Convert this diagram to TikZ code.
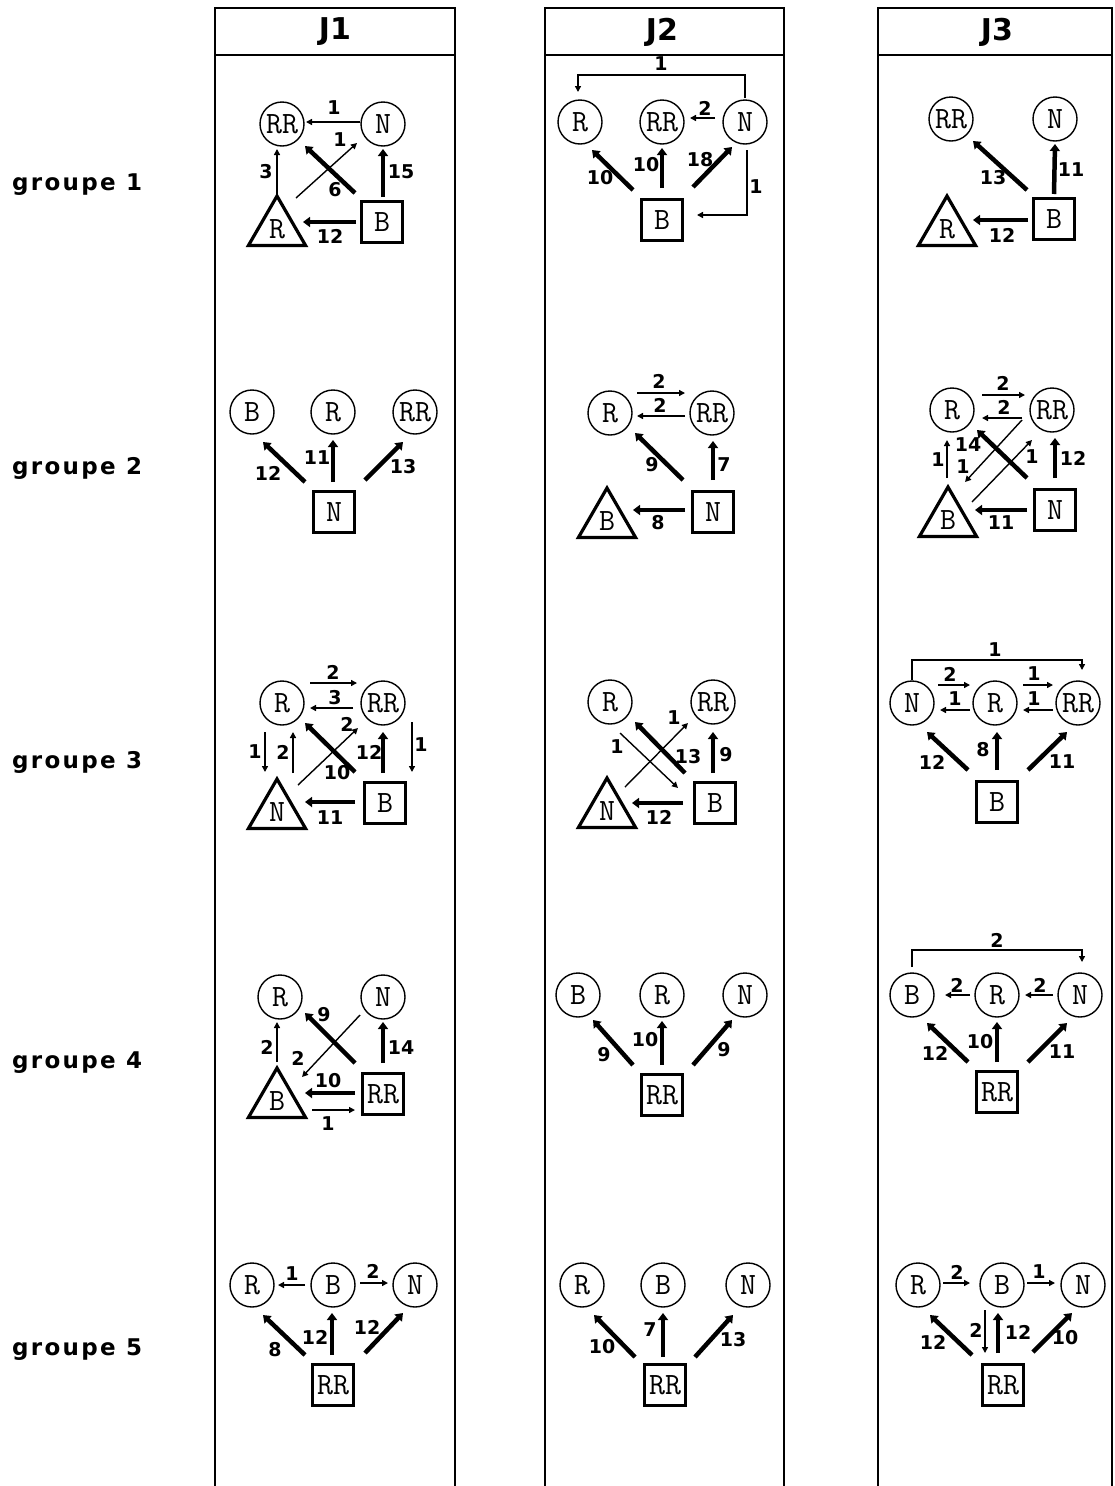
\documentclass[tikz,border=0pt]{standalone}
\usepackage{fontspec}
\usetikzlibrary{arrows.meta,shapes.geometric}
\newfontfamily\numfont{DejaVu Sans}
\newfontfamily\grpfont{DejaVu Sans}[LetterSpace=10]
\newcommand\nodefnt{\ttfamily\fontsize{31}{31}\selectfont\addfontfeatures{FakeStretch=1.2,FakeBold=1}}
\begin{document}
\begin{tikzpicture}[x=1pt,y=-1pt,
  circ/.style={circle,draw,line width=1.4pt,minimum size=44pt,inner sep=0pt,font=\nodefnt},
  sqr/.style={rectangle,draw,line width=3.5pt,minimum size=41pt,inner sep=0pt,font=\nodefnt},
  tri/.style={regular polygon,regular polygon sides=3,draw,line width=3.2pt,minimum size=66pt,inner sep=0pt,font=\nodefnt},
  thk/.style={line width=4.5pt,-{Triangle[length=7pt,width=10pt]}},
  thn/.style={line width=1.4pt,-{Triangle[length=6pt,width=6pt]}},
  lab/.style={font=\numfont\bfseries\fontsize{19}{19}\selectfont,inner sep=0pt},
  head/.style={font=\numfont\bfseries\fontsize{30}{30}\selectfont,inner sep=0pt},
  grp/.style={font=\grpfont\bfseries\fontsize{23}{23}\selectfont,inner sep=0pt,anchor=west},
  frame/.style={line width=2pt}]
\useasboundingbox (0,0) rectangle (1114,1486);
% frames
\draw[frame] (215,1490) -- (215,8) -- (455,8) -- (455,1490);
\draw[frame] (215,55) -- (455,55);
\draw[frame] (545,1490) -- (545,8) -- (784,8) -- (784,1490);
\draw[frame] (545,55) -- (784,55);
\draw[frame] (878,1490) -- (878,8) -- (1112,8) -- (1112,1490);
\draw[frame] (878,55) -- (1112,55);
\node[head] (hJ1) at (335,32) {J1};
\node[head] (hJ2) at (662,32) {J2};
\node[head] (hJ3) at (997,32) {J3};
\node[grp] (g1) at (12,185) {groupe 1};
\node[grp] (g2) at (12,468) {groupe 2};
\node[grp] (g3) at (12,762) {groupe 3};
\node[grp] (g4) at (12,1063) {groupe 4};
\node[grp] (g5) at (12,1350) {groupe 5};

% ---------- a1
\node[circ] (a1RR) at (282,124) {RR};
\node[circ] (a1N) at (383,124) {N};
\node[tri] (a1R) at (277,229) {R};
\node[sqr] (a1B) at (382,222) {B};
\draw[thn] ([shift={(-23,-2)}]a1N.center) -- ([shift={(24,-2)}]a1RR.center);
\draw[thn] ([shift={(19,-31)}]a1R.center) -- ([shift={(-26,19)}]a1N.center);
\draw[thk] ([shift={(-27,-29)}]a1B.center) -- ([shift={(23,22)}]a1RR.center);
\draw[thn] ([shift={(0,-35)}]a1R.center) -- ([shift={(-5,25)}]a1RR.center);
\draw[thk] ([shift={(1,-25)}]a1B.center) -- ([shift={(0,25)}]a1N.center);
\draw[thk] ([shift={(-26,0)}]a1B.center) -- ([shift={(26,-7)}]a1R.center);
\node[lab] (a1l1) at (334,108) {1};
\node[lab] (a1l2) at (340,140) {1};
\node[lab] (a1l3) at (335,190) {6};
\node[lab] (a1l4) at (266,172) {3};
\node[lab] (a1l5) at (401,172) {15};
\node[lab] (a1l6) at (330,236) {12};

% ---------- a2
\node[circ] (a2B) at (252,412) {B};
\node[circ] (a2R) at (333,412) {R};
\node[circ] (a2RR) at (415,412) {RR};
\node[sqr] (a2N) at (334,512) {N};
\draw[thk] ([shift={(-29,-30)}]a2N.center) -- ([shift={(11,30)}]a2B.center);
\draw[thk] ([shift={(-1,-30)}]a2N.center) -- ([shift={(0,28)}]a2R.center);
\draw[thk] ([shift={(31,-32)}]a2N.center) -- ([shift={(-12,30)}]a2RR.center);
\node[lab] (a2l1) at (268,473) {12};
\node[lab] (a2l2) at (317,458) {11};
\node[lab] (a2l3) at (403,467) {13};

% ---------- a3
\node[circ] (a3R) at (282,703) {R};
\node[circ] (a3RR) at (383,703) {RR};
\node[tri] (a3N) at (277,812) {N};
\node[sqr] (a3B) at (385,803) {B};
\draw[thn] ([shift={(28,-20)}]a3R.center) -- ([shift={(-26,-20)}]a3RR.center);
\draw[thn] ([shift={(-30,5)}]a3RR.center) -- ([shift={(28,5)}]a3R.center);
\draw[thn] ([shift={(-17,29)}]a3R.center) -- ([shift={(-12,-40)}]a3N.center);
\draw[thn] ([shift={(16,-39)}]a3N.center) -- ([shift={(11,29)}]a3R.center);
\draw[thk] ([shift={(-30,-31)}]a3B.center) -- ([shift={(23,20)}]a3R.center);
\draw[thn] ([shift={(21,-27)}]a3N.center) -- ([shift={(-25,25)}]a3RR.center);
\draw[thk] ([shift={(-2,-30)}]a3B.center) -- ([shift={(0,29)}]a3RR.center);
\draw[thn] ([shift={(29,19)}]a3RR.center) -- ([shift={(27,-31)}]a3B.center);
\draw[thk] ([shift={(-30,-1)}]a3B.center) -- ([shift={(28,-10)}]a3N.center);
\node[lab] (a3l1) at (333,672) {2};
\node[lab] (a3l2) at (335,698) {3};
\node[lab] (a3l3) at (255,752) {1};
\node[lab] (a3l4) at (283,752) {2};
\node[lab] (a3l5) at (337,773) {10};
\node[lab] (a3l6) at (347,724) {2};
\node[lab] (a3l7) at (369,752) {12};
\node[lab] (a3l8) at (421,745) {1};
\node[lab] (a3l9) at (330,818) {11};

% ---------- a4
\node[circ] (a4R) at (280,997) {R};
\node[circ] (a4N) at (383,997) {N};
\node[tri] (a4B) at (277,1101) {B};
\node[sqr] (a4RR) at (383,1094) {RR};
\draw[thn] ([shift={(0,-39)}]a4B.center) -- ([shift={(-3,25)}]a4R.center);
\draw[thk] ([shift={(-28,-31)}]a4RR.center) -- ([shift={(25,16)}]a4R.center);
\draw[thn] ([shift={(-23,18)}]a4N.center) -- ([shift={(25,-24)}]a4B.center);
\draw[thk] ([shift={(0,-31)}]a4RR.center) -- ([shift={(0,25)}]a4N.center);
\draw[thk] ([shift={(-28,-1)}]a4RR.center) -- ([shift={(28,-8)}]a4B.center);
\draw[thn] ([shift={(35,9)}]a4B.center) -- ([shift={(-28,16)}]a4RR.center);
\node[lab] (a4l1) at (267,1047) {2};
\node[lab] (a4l2) at (324,1015) {9};
\node[lab] (a4l3) at (298,1058) {2};
\node[lab] (a4l4) at (401,1048) {14};
\node[lab] (a4l5) at (328,1081) {10};
\node[lab] (a4l6) at (328,1124) {1};

% ---------- a5
\node[circ] (a5R) at (252,1285) {R};
\node[circ] (a5B) at (333,1285) {B};
\node[circ] (a5N) at (415,1285) {N};
\node[sqr] (a5RR) at (333,1385) {RR};
\draw[thn] ([shift={(-28,0)}]a5B.center) -- ([shift={(26,0)}]a5R.center);
\draw[thn] ([shift={(27,-2)}]a5B.center) -- ([shift={(-27,-2)}]a5N.center);
\draw[thk] ([shift={(-28,-30)}]a5RR.center) -- ([shift={(11,30)}]a5R.center);
\draw[thk] ([shift={(-1,-30)}]a5RR.center) -- ([shift={(-1,28)}]a5B.center);
\draw[thk] ([shift={(32,-32)}]a5RR.center) -- ([shift={(-12,28)}]a5N.center);
\node[lab] (a5l1) at (292,1274) {1};
\node[lab] (a5l2) at (373,1271) {2};
\node[lab] (a5l3) at (275,1350) {8};
\node[lab] (a5l4) at (315,1337) {12};
\node[lab] (a5l5) at (367,1327) {12};

% ---------- b1
\node[circ] (b1R) at (580,122) {R};
\node[circ] (b1RR) at (662,122) {RR};
\node[circ] (b1N) at (745,122) {N};
\node[sqr] (b1B) at (662,220) {B};
\draw[thn] ([shift={(0,-24)}]b1N.center) -- ([shift={(0,-47)}]b1N.center) -| ([shift={(-2,-30)}]b1R.center);
\draw[thn] ([shift={(-30,-4)}]b1N.center) -- ([shift={(28,-4)}]b1RR.center);
\draw[thk] ([shift={(-29,-30)}]b1B.center) -- ([shift={(12,28)}]b1R.center);
\draw[thk] ([shift={(0,-32)}]b1B.center) -- ([shift={(0,26)}]b1RR.center);
\draw[thk] ([shift={(31,-33)}]b1B.center) -- ([shift={(-13,25)}]b1N.center);
\draw[thn] ([shift={(2,28)}]b1N.center) |- ([shift={(35,-5)}]b1B.center);
\node[lab] (b1l1) at (661,64) {1};
\node[lab] (b1l2) at (705,108) {2};
\node[lab] (b1l3) at (600,178) {10};
\node[lab] (b1l4) at (646,165) {10};
\node[lab] (b1l5) at (700,160) {18};
\node[lab] (b1l6) at (756,187) {1};

% ---------- b2
\node[circ] (b2R) at (610,413) {R};
\node[circ] (b2RR) at (712,413) {RR};
\node[tri] (b2B) at (607,521) {B};
\node[sqr] (b2N) at (713,512) {N};
\draw[thn] ([shift={(27,-20)}]b2R.center) -- ([shift={(-27,-20)}]b2RR.center);
\draw[thn] ([shift={(-27,3)}]b2RR.center) -- ([shift={(27,3)}]b2R.center);
\draw[thk] ([shift={(-30,-32)}]b2N.center) -- ([shift={(25,20)}]b2R.center);
\draw[thk] ([shift={(0,-32)}]b2N.center) -- ([shift={(1,28)}]b2RR.center);
\draw[thk] ([shift={(-28,-2)}]b2N.center) -- ([shift={(26,-11)}]b2B.center);
\node[lab] (b2l1) at (659,381) {2};
\node[lab] (b2l2) at (660,405) {2};
\node[lab] (b2l3) at (652,465) {9};
\node[lab] (b2l4) at (724,465) {7};
\node[lab] (b2l5) at (658,523) {8};

% ---------- b3
\node[circ] (b3R) at (610,702) {R};
\node[circ] (b3RR) at (713,702) {RR};
\node[tri] (b3N) at (607,811) {N};
\node[sqr] (b3B) at (715,803) {B};
\draw[thk] ([shift={(-30,-30)}]b3B.center) -- ([shift={(25,20)}]b3R.center);
\draw[thn] ([shift={(18,-24)}]b3N.center) -- ([shift={(-25,21)}]b3RR.center);
\draw[thn] ([shift={(10,31)}]b3R.center) -- ([shift={(-37,-15)}]b3B.center);
\draw[thk] ([shift={(-2,-30)}]b3B.center) -- ([shift={(0,30)}]b3RR.center);
\draw[thk] ([shift={(-32,0)}]b3B.center) -- ([shift={(25,-8)}]b3N.center);
\node[lab] (b3l1) at (688,757) {13};
\node[lab] (b3l2) at (674,718) {1};
\node[lab] (b3l3) at (617,747) {1};
\node[lab] (b3l4) at (726,755) {9};
\node[lab] (b3l5) at (659,817) {12};

% ---------- b4
\node[circ] (b4B) at (578,995) {B};
\node[circ] (b4R) at (662,995) {R};
\node[circ] (b4N) at (745,995) {N};
\node[sqr] (b4RR) at (662,1095) {RR};
\draw[thk] ([shift={(-29,-30)}]b4RR.center) -- ([shift={(15,25)}]b4B.center);
\draw[thk] ([shift={(0,-30)}]b4RR.center) -- ([shift={(0,26)}]b4R.center);
\draw[thk] ([shift={(31,-30)}]b4RR.center) -- ([shift={(-13,25)}]b4N.center);
\node[lab] (b4l1) at (604,1055) {9};
\node[lab] (b4l2) at (645,1040) {10};
\node[lab] (b4l3) at (724,1050) {9};

% ---------- b5
\node[circ] (b5R) at (582,1285) {R};
\node[circ] (b5B) at (663,1285) {B};
\node[circ] (b5N) at (748,1285) {N};
\node[sqr] (b5RR) at (665,1385) {RR};
\draw[thk] ([shift={(-30,-28)}]b5RR.center) -- ([shift={(12,30)}]b5R.center);
\draw[thk] ([shift={(-2,-28)}]b5RR.center) -- ([shift={(0,28)}]b5B.center);
\draw[thk] ([shift={(30,-28)}]b5RR.center) -- ([shift={(-15,30)}]b5N.center);
\node[lab] (b5l1) at (602,1347) {10};
\node[lab] (b5l2) at (650,1330) {7};
\node[lab] (b5l3) at (733,1340) {13};

% ---------- c1
\node[circ] (c1RR) at (951,119) {RR};
\node[circ] (c1N) at (1055,119) {N};
\node[tri] (c1R) at (947,229) {R};
\node[sqr] (c1B) at (1054,219) {B};
\draw[thk] ([shift={(-27,-29)}]c1B.center) -- ([shift={(22,22)}]c1RR.center);
\draw[thk] ([shift={(0,-25)}]c1B.center) -- ([shift={(0,25)}]c1N.center);
\draw[thk] ([shift={(-26,1)}]c1B.center) -- ([shift={(26,-9)}]c1R.center);
\node[lab] (c1l1) at (993,178) {13};
\node[lab] (c1l2) at (1071,170) {11};
\node[lab] (c1l3) at (1002,235) {12};

% ---------- c2
\node[circ] (c2R) at (952,410) {R};
\node[circ] (c2RR) at (1052,410) {RR};
\node[tri] (c2B) at (948,520) {B};
\node[sqr] (c2N) at (1055,510) {N};
\draw[thn] ([shift={(30,-15)}]c2R.center) -- ([shift={(-27,-15)}]c2RR.center);
\draw[thn] ([shift={(-30,8)}]c2RR.center) -- ([shift={(30,8)}]c2R.center);
\draw[thk] ([shift={(-28,-32)}]c2N.center) -- ([shift={(25,20)}]c2R.center);
\draw[thk] ([shift={(0,-32)}]c2N.center) -- ([shift={(3,28)}]c2RR.center);
\draw[thn] ([shift={(-1,-42)}]c2B.center) -- ([shift={(-5,30)}]c2R.center);
\draw[thn] ([shift={(-30,10)}]c2RR.center) -- ([shift={(17,-38)}]c2B.center);
\draw[thn] ([shift={(24,-18)}]c2B.center) -- ([shift={(-20,30)}]c2RR.center);
\draw[thk] ([shift={(-28,0)}]c2N.center) -- ([shift={(27,-10)}]c2B.center);
\node[lab] (c2l1) at (1003,383) {2};
\node[lab] (c2l2) at (1004,407) {2};
\node[lab] (c2l3) at (968,445) {14};
\node[lab] (c2l4) at (1073,458) {12};
\node[lab] (c2l5) at (938,460) {1};
\node[lab] (c2l6) at (963,467) {1};
\node[lab] (c2l7) at (1032,457) {1};
\node[lab] (c2l8) at (1001,523) {11};

% ---------- c3
\node[circ] (c3N) at (912,703) {N};
\node[circ] (c3R) at (995,703) {R};
\node[circ] (c3RR) at (1078,703) {RR};
\node[sqr] (c3B) at (997,802) {B};
\draw[thn] ([shift={(0,-23)}]c3N.center) -- ([shift={(0,-43)}]c3N.center) -| ([shift={(4,-33)}]c3RR.center);
\draw[thn] ([shift={(26,-18)}]c3N.center) -- ([shift={(-25,-18)}]c3R.center);
\draw[thn] ([shift={(-25,7)}]c3R.center) -- ([shift={(28,7)}]c3N.center);
\draw[thn] ([shift={(28,-18)}]c3R.center) -- ([shift={(-25,-18)}]c3RR.center);
\draw[thn] ([shift={(-25,7)}]c3RR.center) -- ([shift={(28,7)}]c3R.center);
\draw[thk] ([shift={(-29,-32)}]c3B.center) -- ([shift={(15,29)}]c3N.center);
\draw[thk] ([shift={(0,-32)}]c3B.center) -- ([shift={(2,29)}]c3R.center);
\draw[thk] ([shift={(31,-32)}]c3B.center) -- ([shift={(-11,29)}]c3RR.center);
\node[lab] (c3l1) at (995,650) {1};
\node[lab] (c3l2) at (950,674) {2};
\node[lab] (c3l3) at (955,699) {1};
\node[lab] (c3l4) at (1034,674) {1};
\node[lab] (c3l5) at (1034,699) {1};
\node[lab] (c3l6) at (932,762) {12};
\node[lab] (c3l7) at (983,750) {8};
\node[lab] (c3l8) at (1062,762) {11};

% ---------- c4
\node[circ] (c4B) at (912,995) {B};
\node[circ] (c4R) at (997,995) {R};
\node[circ] (c4N) at (1080,995) {N};
\node[sqr] (c4RR) at (997,1092) {RR};
\draw[thn] ([shift={(0,-28)}]c4B.center) -- ([shift={(0,-45)}]c4B.center) -| ([shift={(2,-33)}]c4N.center);
\draw[thn] ([shift={(-27,0)}]c4R.center) -- ([shift={(33,0)}]c4B.center);
\draw[thn] ([shift={(-27,0)}]c4N.center) -- ([shift={(28,0)}]c4R.center);
\draw[thk] ([shift={(-29,-30)}]c4RR.center) -- ([shift={(15,28)}]c4B.center);
\draw[thk] ([shift={(0,-30)}]c4RR.center) -- ([shift={(0,27)}]c4R.center);
\draw[thk] ([shift={(31,-30)}]c4RR.center) -- ([shift={(-13,28)}]c4N.center);
\node[lab] (c4l1) at (997,940) {2};
\node[lab] (c4l2) at (957,985) {2};
\node[lab] (c4l3) at (1040,985) {2};
\node[lab] (c4l4) at (935,1053) {12};
\node[lab] (c4l5) at (980,1042) {10};
\node[lab] (c4l6) at (1062,1052) {11};

% ---------- c5
\node[circ] (c5R) at (918,1285) {R};
\node[circ] (c5B) at (1002,1285) {B};
\node[circ] (c5N) at (1083,1285) {N};
\node[sqr] (c5RR) at (1003,1385) {RR};
\draw[thn] ([shift={(25,-2)}]c5R.center) -- ([shift={(-32,-2)}]c5B.center);
\draw[thn] ([shift={(25,-2)}]c5B.center) -- ([shift={(-28,-2)}]c5N.center);
\draw[thk] ([shift={(-31,-30)}]c5RR.center) -- ([shift={(12,30)}]c5R.center);
\draw[thn] ([shift={(-17,25)}]c5B.center) -- ([shift={(-18,-32)}]c5RR.center);
\draw[thk] ([shift={(-5,-32)}]c5RR.center) -- ([shift={(-4,28)}]c5B.center);
\draw[thk] ([shift={(30,-33)}]c5RR.center) -- ([shift={(-11,28)}]c5N.center);
\node[lab] (c5l1) at (957,1272) {2};
\node[lab] (c5l2) at (1039,1272) {1};
\node[lab] (c5l3) at (933,1342) {12};
\node[lab] (c5l4) at (976,1330) {2};
\node[lab] (c5l5) at (1018,1332) {12};
\node[lab] (c5l6) at (1065,1338) {10};
\end{tikzpicture}
\end{document}
